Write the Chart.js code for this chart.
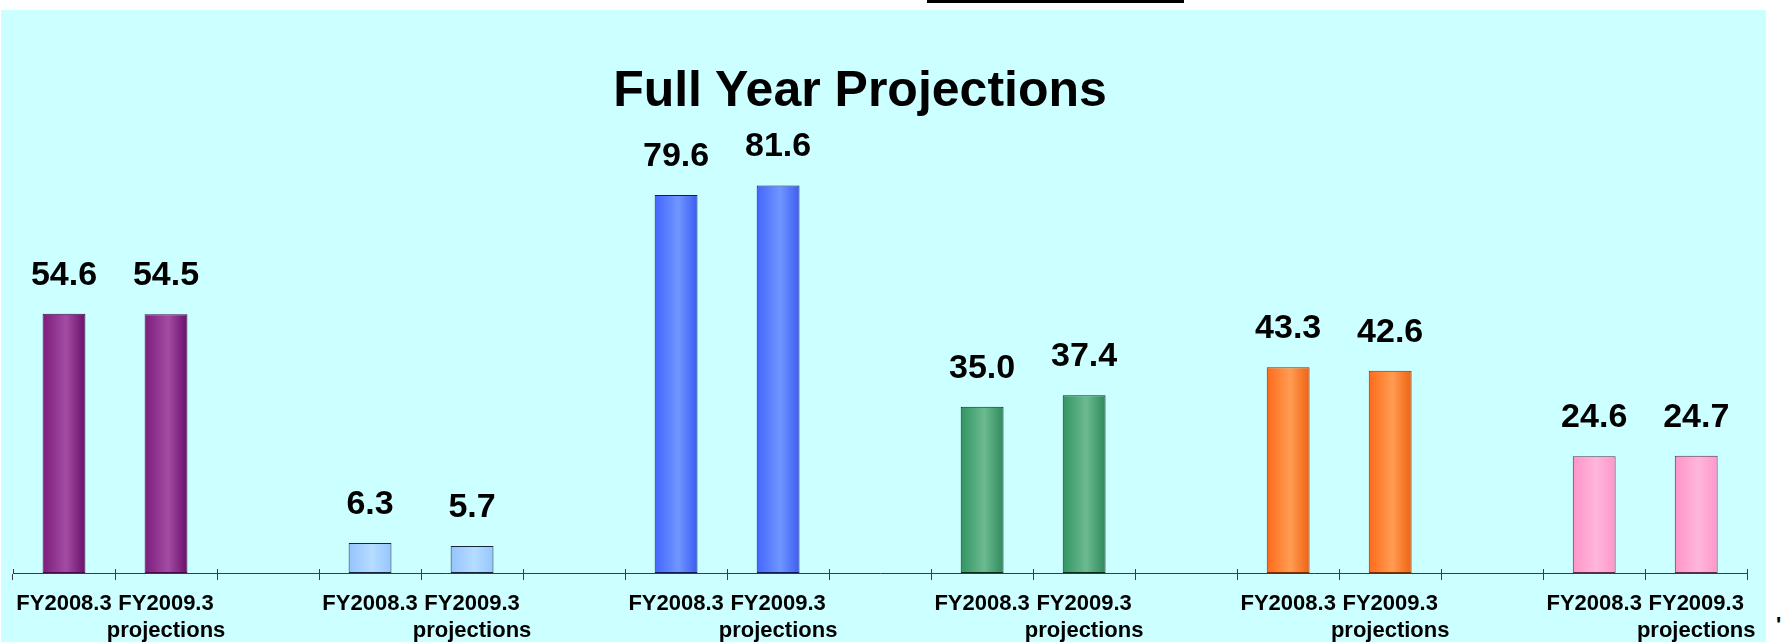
<!DOCTYPE html>
<html>
<head>
<meta charset="utf-8">
<title>Full Year Projections</title>
<script src="https://cdn.jsdelivr.net/npm/chart.js@4.4.1/dist/chart.umd.min.js"></script>
<style>
    html, body { margin: 0; padding: 0; background: #ffffff; }
    body { width: 1784px; height: 642px; position: relative; overflow: hidden; font-family: "Liberation Sans", Arial, sans-serif; }
    .topline { position: absolute; left: 927px; top: 0; width: 257px; height: 3px; background: #000; }
    .panel { position: absolute; left: 1px; top: 10px; width: 1765px; height: 632px; background: #ccffff; overflow: hidden; }
    .panel canvas { position: absolute; left: 0; top: 0; }
    .title { position: absolute; left: 0; top: 54px; width: 1718px; text-align: center; font-weight: bold; font-size: 50px; line-height: 50px; color: #000; }
    .corner { position: absolute; left: 1776px; top: 612px; font-weight: bold; font-size: 22px; color: #000; }
</style>
</head>
<body>
<div class="topline"></div>
<div class="panel">
    <canvas id="projectionChart" width="1765" height="647"></canvas>
    <div class="title">Full Year Projections</div>
</div>
<div class="corner">'</div>
<script>
// Values per segment (six segments, left to right)
const fy2008Values = [54.6, 6.3, 79.6, 35.0, 43.3, 24.6];
const fy2009Values = [54.5, 5.7, 81.6, 37.4, 42.6, 24.7];
const periodLabels = ['FY2008.3', ['FY2009.3', 'projections']];

// Bar shading per segment: left edge, highlight, right edge, border
const barShades = [
    ['#7c1c7c', '#a44ca4', '#68106a', '#4a0848'],
    ['#94c4ff', '#b6dcff', '#96c6ff', '#1a2438'],
    ['#4266ff', '#7096ff', '#3c5cf4', '#101a50'],
    ['#329462', '#6cba90', '#2e8a5a', '#0a2a1a'],
    ['#ff6a1a', '#ff9c52', '#f06212', '#7a3000'],
    ['#ff94c8', '#ffb6dc', '#ff96ca', '#5a3044']
];

// Build the category axis: two bars per segment, an empty slot between segments
const labels = [];
const values = [];
const groupOf = [];
fy2008Values.forEach((v, g) => {
    if (g > 0) {
        labels.push('');
        values.push(null);
        groupOf.push(g);
    }
    labels.push(periodLabels[0]);
    values.push(v);
    groupOf.push(g);
    labels.push(periodLabels[1]);
    values.push(fy2009Values[g]);
    groupOf.push(g);
});

const BAR_SHARE = 0.42;

// Value labels above the bars
const valueLabels = {
    id: 'valueLabels',
    afterDatasetsDraw(chart) {
        const ctx = chart.ctx;
        const meta = chart.getDatasetMeta(0);
        ctx.save();
        ctx.font = 'bold 34px "Liberation Sans", Arial, sans-serif';
        ctx.fillStyle = '#000';
        ctx.textAlign = 'center';
        ctx.textBaseline = 'alphabetic';
        meta.data.forEach((bar, i) => {
            if (values[i] == null) return;
            ctx.fillText(values[i].toFixed(1), bar.x, bar.y - 29);
        });
        ctx.restore();
    }
};

// Small upward stubs so the tick marks cross the axis line
const tickStubs = {
    id: 'tickStubs',
    afterDraw(chart) {
        const xs = chart.scales.x;
        const ctx = chart.ctx;
        ctx.save();
        ctx.strokeStyle = '#3c3c3c';
        ctx.lineWidth = 1;
        ctx.beginPath();
        for (let i = 0; i <= labels.length; i++) {
            const px = Math.round(xs.getPixelForValue(i - 0.5)) + 0.5;
            ctx.moveTo(px, xs.top - 4);
            ctx.lineTo(px, xs.top);
        }
        ctx.stroke();
        ctx.restore();
    }
};

const ctxProjection = document.getElementById('projectionChart').getContext('2d');
const projectionChart = new Chart(ctxProjection, {
    type: 'bar',
    data: {
        labels: labels,
        datasets: [{
            data: values,
            barPercentage: BAR_SHARE,
            categoryPercentage: 1,
            borderWidth: 1,
            borderSkipped: false,
            borderColor: (c) => barShades[groupOf[c.dataIndex] || 0][3],
            backgroundColor: (c) => {
                const shade = barShades[groupOf[c.dataIndex] || 0];
                const xs = c.chart.scales.x;
                if (c.dataIndex === undefined || !xs || !xs.width) return shade[1];
                const mid = xs.getPixelForValue(c.dataIndex);
                const half = xs.width / labels.length * BAR_SHARE / 2;
                const grad = c.chart.ctx.createLinearGradient(mid - half, 0, mid + half, 0);
                grad.addColorStop(0, shade[0]);
                grad.addColorStop(0.55, shade[1]);
                grad.addColorStop(1, shade[2]);
                return grad;
            }
        }]
    },
    options: {
        responsive: false,
        animation: false,
        layout: {
            padding: { top: 88, left: 12, right: 17, bottom: 2 }
        },
        plugins: {
            legend: { display: false },
            tooltip: { enabled: false },
            title: { display: false }
        },
        scales: {
            x: {
                offset: true,
                border: { display: true, color: '#3c3c3c', width: 1 },
                grid: {
                    display: true,
                    offset: true,
                    drawOnChartArea: false,
                    drawTicks: true,
                    tickLength: 7,
                    color: '#3c3c3c'
                },
                ticks: {
                    autoSkip: false,
                    maxRotation: 0,
                    padding: 10,
                    color: '#000',
                    font: { family: '"Liberation Sans", Arial, sans-serif', size: 22, weight: 'bold', lineHeight: 1.25 }
                }
            },
            y: {
                display: false,
                min: 0,
                max: 100
            }
        }
    },
    plugins: [valueLabels, tickStubs]
});
</script>
</body>
</html>
